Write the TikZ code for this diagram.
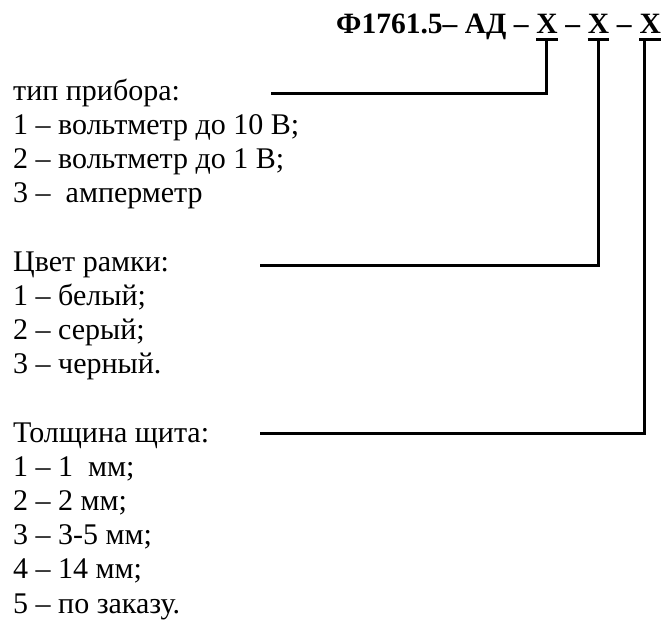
\documentclass[tikz,border=0pt]{standalone}
\usepackage{fontspec}
\setmainfont{Liberation Serif}
\newcommand\bodyfnt{\fontsize{30}{34.2}\selectfont}
\newcommand\titlefnt{\fontsize{29.5}{34.2}\selectfont\bfseries}
\tikzset{
  body/.style={font=\bodyfnt, anchor=base west, inner sep=0pt},
  ttl/.style={font=\titlefnt, anchor=base west, inner sep=0pt},
  xmark/.style={font=\titlefnt, anchor=base west, inner xsep=0pt, inner ysep=6pt},
  conn/.style={line width=3pt, black},
  uline/.style={line width=3pt, black},
}
\begin{document}
\begin{tikzpicture}[x=1pt, y=-1pt]
\useasboundingbox (0,0) rectangle (666,627);
% title
\node[ttl] (t0) at (336,33) {Ф1761.5– АД –\ \null};
\node[xmark] (x1) at (t0.base east) {X};
\node[ttl] (t1) at (x1.base east) {\null\ –\ \null};
\node[xmark] (x2) at (t1.base east) {X};
\node[ttl] (t2) at (x2.base east) {\null\ –\ \null};
\node[xmark] (x3) at (t2.base east) {X};
\draw[uline] (x1.south west) -- (x1.south east);
\draw[uline] (x2.south west) -- (x2.south east);
\draw[uline] (x3.south west) -- (x3.south east);
% group 1
\node[body] (g1h) at (13,100) {тип прибора:};
\node[body] (g1a) at (13,134.2) {1 – вольтметр до 10 В;};
\node[body] (g1b) at (13,168.4) {2 – вольтметр до 1 В;};
\node[body] (g1c) at (13,202.6) {3 –\ \ амперметр};
% group 2
\node[body] (g2h) at (13,271) {Цвет рамки:};
\node[body] (g2a) at (13,305.2) {1 – белый;};
\node[body] (g2b) at (13,339.4) {2 – серый;};
\node[body] (g2c) at (13,373.6) {3 – черный.};
% group 3
\node[body] (g3h) at (13,442) {Толщина щита:};
\node[body] (g3a) at (13,476.2) {1 – 1\ \ мм;};
\node[body] (g3b) at (13,510.4) {2 – 2 мм;};
\node[body] (g3c) at (13,544.6) {3 – 3-5 мм;};
\node[body] (g3d) at (13,578.8) {4 – 14 мм;};
\node[body] (g3e) at (13,613) {5 – по заказу.};
% connectors
\coordinate (c1) at (271,93);
\coordinate (c2) at (260,265);
\coordinate (c3) at (260,433);
\draw[conn] (c1) -| (x1.south);
\draw[conn] (c2) -| (x2.south);
\draw[conn] (c3) -| ([xshift=5pt]x3.south west);
\end{tikzpicture}
\end{document}
